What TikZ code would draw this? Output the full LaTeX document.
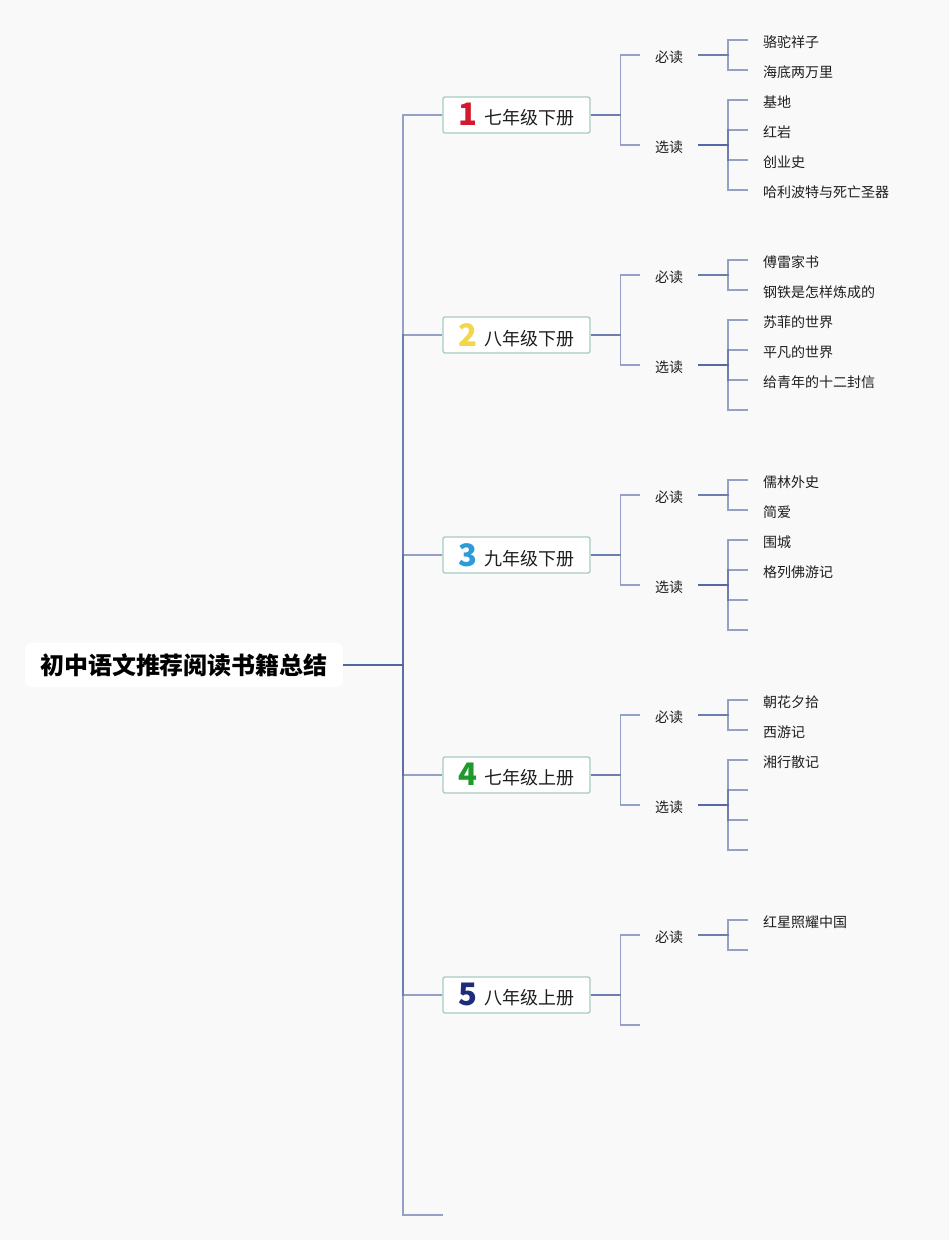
\documentclass[tikz,border=0pt]{standalone}
\usepackage{fontspec}
\setmainfont{Noto Sans CJK SC}
\usetikzlibrary{positioning}
\definecolor{bgcol}{HTML}{F9F9FA}
\definecolor{boxcol}{HTML}{A8CCC2}
\definecolor{linecol}{HTML}{5366A2}
\definecolor{txtcol}{HTML}{1E1E1E}
\definecolor{onecol}{HTML}{D2192E}
\definecolor{twocol}{HTML}{F2D64B}
\definecolor{threecol}{HTML}{2C9BD9}
\definecolor{fourcol}{HTML}{1D9A2B}
\definecolor{fivecol}{HTML}{1F2C7C}
\tikzset{
  rootbox/.style={fill=white,rounded corners=6pt,minimum width=318pt,
    minimum height=44pt,inner sep=0pt,text=black,
    font=\fontsize{24}{28}\selectfont\bfseries},
  grade/.style={draw=boxcol,line width=1.3pt,fill=white,rounded corners=2pt,
    minimum width=147pt,minimum height=36pt,inner sep=0pt,text=txtcol,
    font=\fontsize{18}{20}\selectfont},
  kind/.style={minimum width=58pt,inner sep=0pt,text=txtcol,
    text height=14pt,text depth=0pt,font=\fontsize{14}{16}\selectfont},
  book/.style={anchor=west,inner xsep=15pt,inner ysep=0pt,text=txtcol,
    text height=14pt,text depth=0pt,font=\fontsize{14}{16}\selectfont},
  link/.style={draw=linecol,line width=1.6pt,draw opacity=0.6}
}
\newcommand{\gnum}[2]{\raisebox{-1pt}{\color{#1}\fontsize{31}{31}\selectfont\bfseries #2}\hspace{8pt}}
\begin{document}
\begin{tikzpicture}[x=1pt,y=-1pt]
  \fill[bgcol] (0,0) rectangle (949,1240);
  \useasboundingbox (0,0) rectangle (949,1240);

  % root and grades
  \node[rootbox] (root) at (184,665) {初中语文推荐阅读书籍总结};
  \node[grade] (g1) at (516.5,115) {\gnum{onecol}{1}七年级下册};
  \node[grade] (g2) at (516.5,335) {\gnum{twocol}{2}八年级下册};
  \node[grade] (g3) at (516.5,555) {\gnum{threecol}{3}九年级下册};
  \node[grade] (g4) at (516.5,775) {\gnum{fourcol}{4}七年级上册};
  \node[grade] (g5) at (516.5,995) {\gnum{fivecol}{5}八年级上册};
  \coordinate (g6) at (443,1215);

  % must / optional
  \node[kind] (k1a) at (669,55) {必读};
  \node[kind] (k1b) at (669,145) {选读};
  \node[kind] (k2a) at (669,275) {必读};
  \node[kind] (k2b) at (669,365) {选读};
  \node[kind] (k3a) at (669,495) {必读};
  \node[kind] (k3b) at (669,585) {选读};
  \node[kind] (k4a) at (669,715) {必读};
  \node[kind] (k4b) at (669,805) {选读};
  \node[kind] (k5a) at (669,935) {必读};
  \coordinate (k5b) at (640,1025);

  % books
  \node[book] (b1a1) at (748,40) {骆驼祥子};
  \node[book] (b1a2) at (748,70) {海底两万里};
  \node[book] (b1b1) at (748,100) {基地};
  \node[book] (b1b2) at (748,130) {红岩};
  \node[book] (b1b3) at (748,160) {创业史};
  \node[book] (b1b4) at (748,190) {哈利波特与死亡圣器};
  \node[book] (b2a1) at (748,260) {傅雷家书};
  \node[book] (b2a2) at (748,290) {钢铁是怎样炼成的};
  \node[book] (b2b1) at (748,320) {苏菲的世界};
  \node[book] (b2b2) at (748,350) {平凡的世界};
  \node[book] (b2b3) at (748,380) {给青年的十二封信};
  \coordinate (b2b4) at (748,410);
  \node[book] (b3a1) at (748,480) {儒林外史};
  \node[book] (b3a2) at (748,510) {简爱};
  \node[book] (b3b1) at (748,540) {围城};
  \node[book] (b3b2) at (748,570) {格列佛游记};
  \coordinate (b3b3) at (748,600);
  \coordinate (b3b4) at (748,630);
  \node[book] (b4a1) at (748,700) {朝花夕拾};
  \node[book] (b4a2) at (748,730) {西游记};
  \node[book] (b4b1) at (748,760) {湘行散记};
  \coordinate (b4b2) at (748,790);
  \coordinate (b4b3) at (748,820);
  \coordinate (b4b4) at (748,850);
  \node[book] (b5a1) at (748,920) {红星照耀中国};
  \coordinate (b5a2) at (748,950);

  % connectors
  \foreach \g in {g1,g2,g3,g4,g5,g6}
    \draw[link] (root.east) -- ++(60,0) |- (\g.west);
  \foreach \g/\k in {g1/k1a,g1/k1b,g2/k2a,g2/k2b,g3/k3a,g3/k3b,g4/k4a,g4/k4b,g5/k5a,g5/k5b}
    \draw[link] (\g.east) -- ++(30,0) |- (\k.west);
  \foreach \k/\b in {k1a/b1a1,k1a/b1a2,k2a/b2a1,k2a/b2a2,k3a/b3a1,k3a/b3a2,
      k4a/b4a1,k4a/b4a2,k5a/b5a1,k5a/b5a2}
    \draw[link] (\k.east) -- ++(30,0) |- (\b.west);
  \foreach \k/\b in {k1b/b1b1,k1b/b1b2,k1b/b1b3,k1b/b1b4,k2b/b2b1,k2b/b2b2,
      k2b/b2b3,k2b/b2b4,k3b/b3b1,k3b/b3b2,k3b/b3b3,k3b/b3b4,
      k4b/b4b1,k4b/b4b2,k4b/b4b3,k4b/b4b4}
    \draw[link] (\k.east) -- ++(30,0) |- (\b.west);
\end{tikzpicture}
\end{document}
